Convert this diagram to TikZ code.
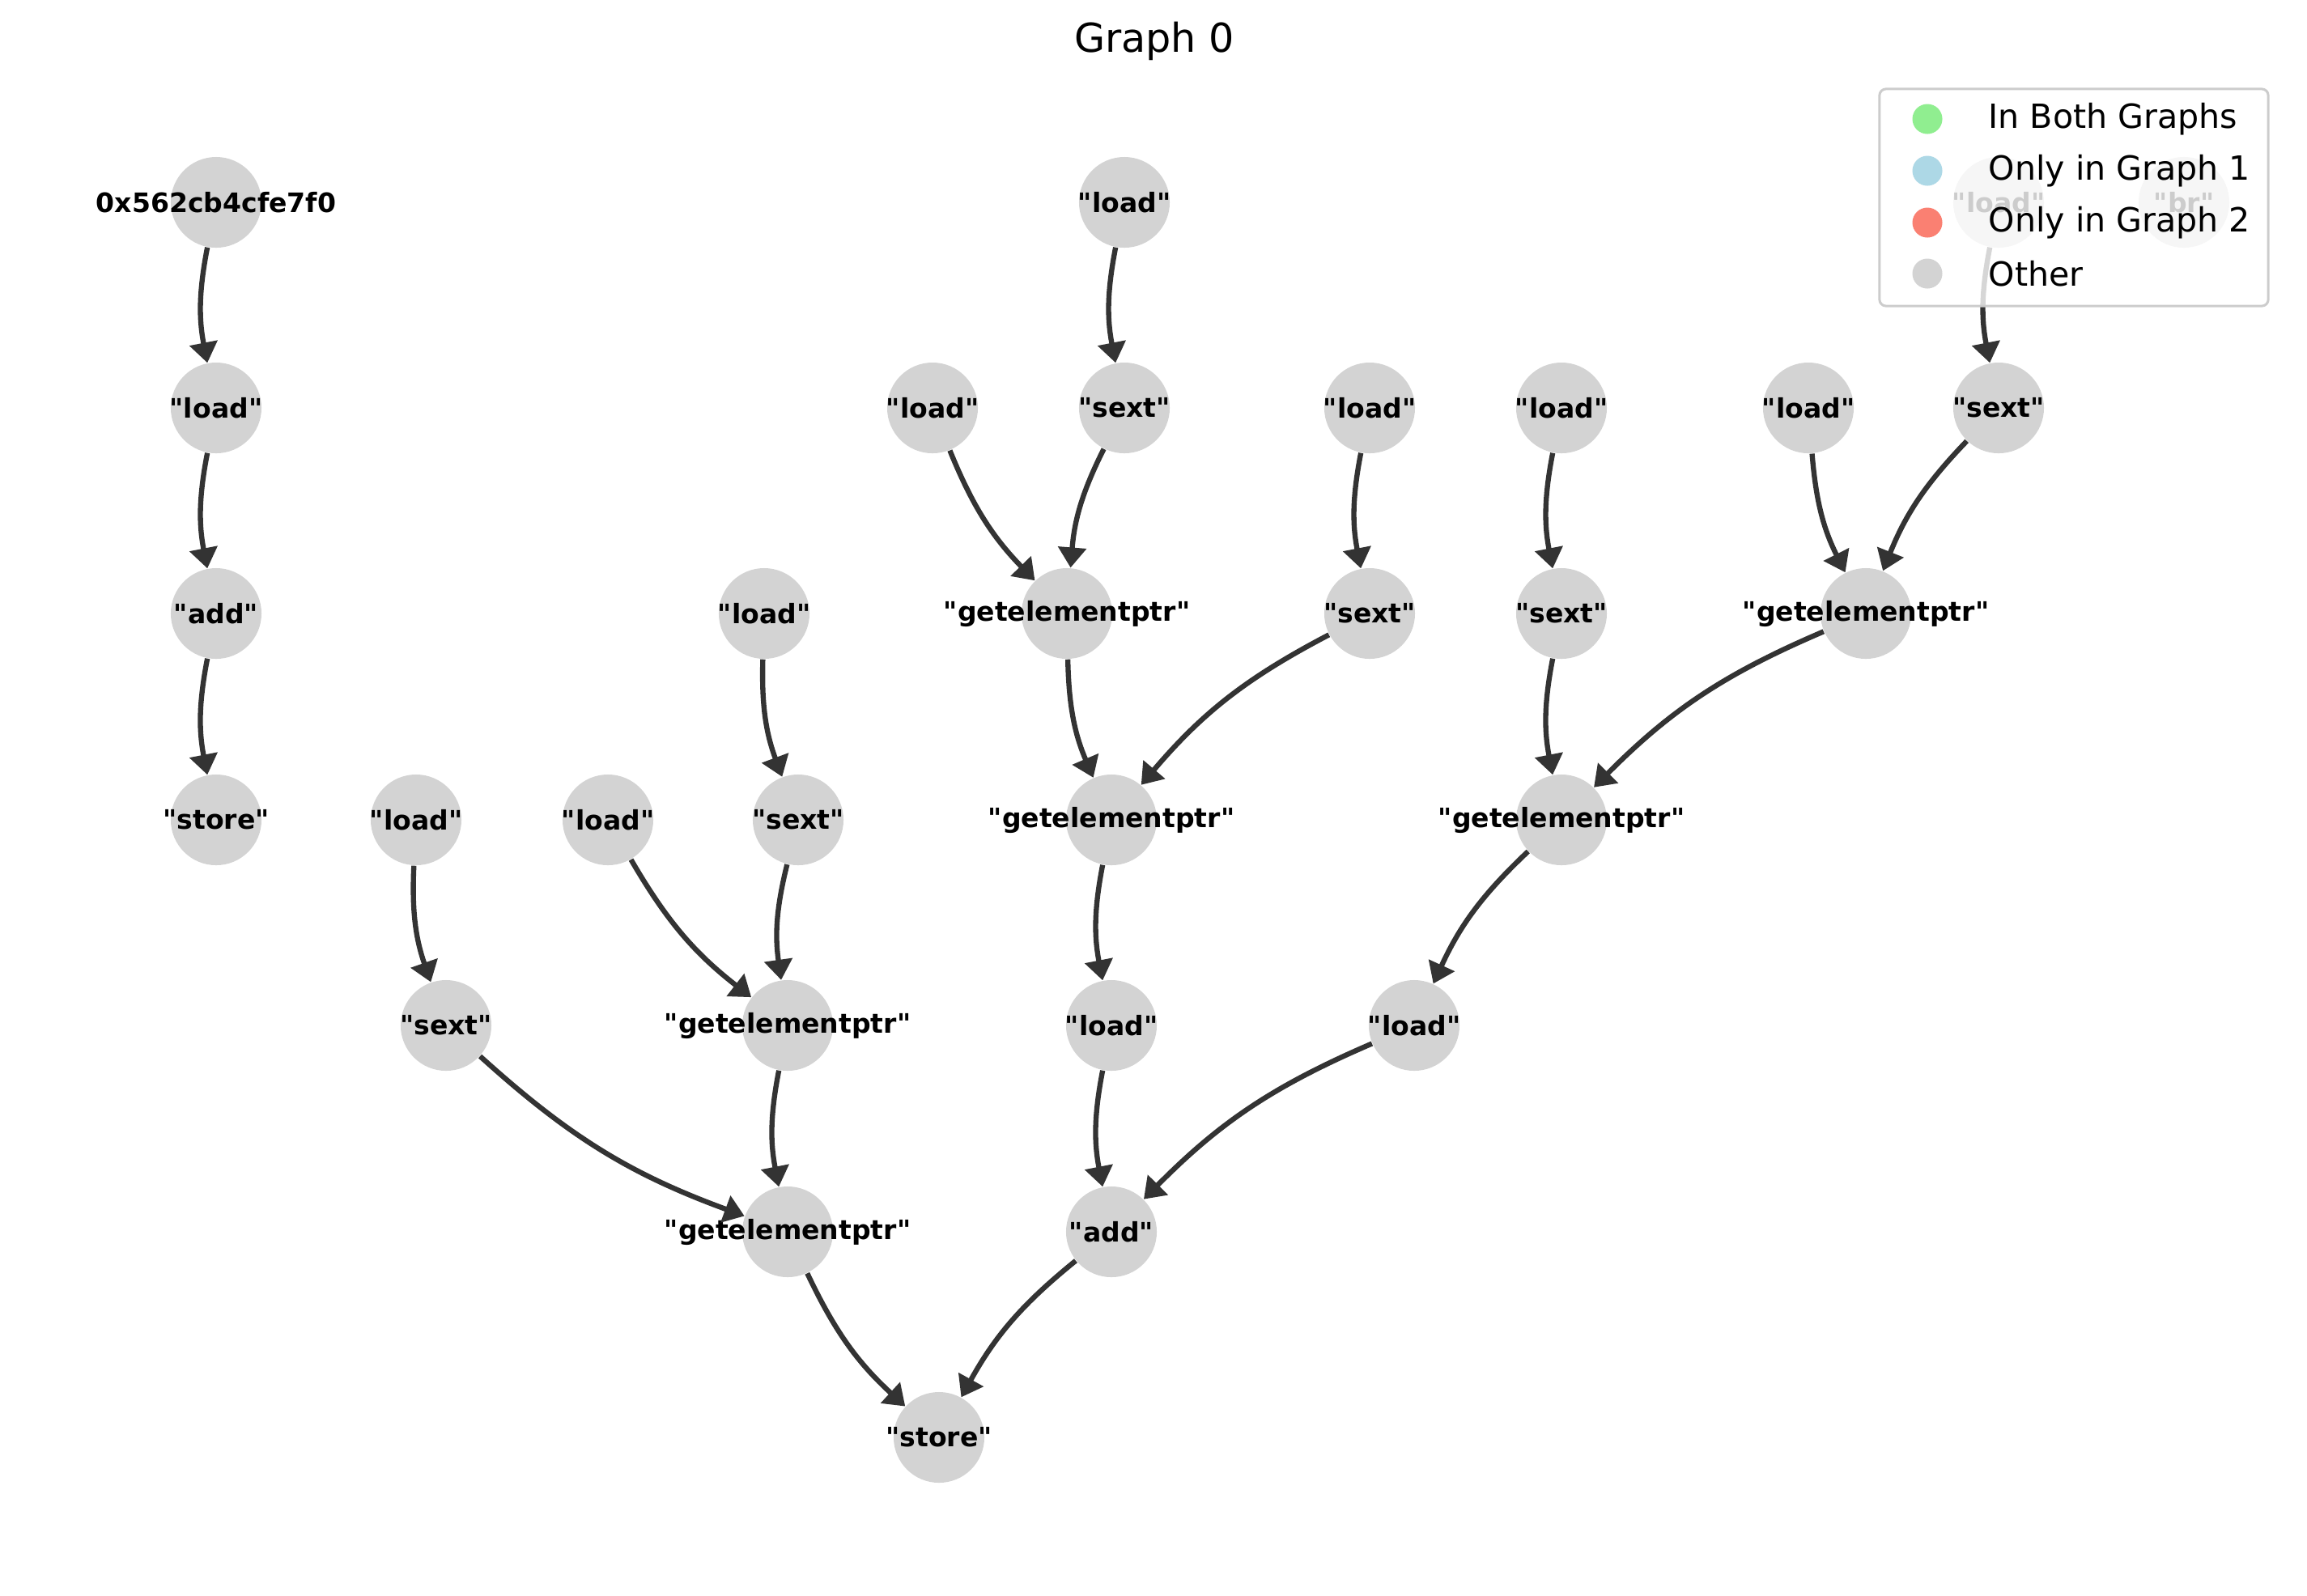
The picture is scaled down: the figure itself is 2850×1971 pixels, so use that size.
\documentclass[tikz,border=0pt]{standalone}
\usepackage{fontspec}
\setmainfont{DejaVu Sans}[Ligatures=TeXOff]
\usetikzlibrary{arrows.meta}
\definecolor{nodegray}{HTML}{D3D3D3}
\definecolor{edgegray}{HTML}{333333}
\definecolor{bothgreen}{HTML}{90EE90}
\definecolor{onlyblue}{HTML}{ADD8E6}
\definecolor{onlyred}{HTML}{FA8072}
\definecolor{framegray}{HTML}{CCCCCC}
\tikzset{
  vert/.style={circle, fill=nodegray, minimum size=1.12cm, inner sep=0pt,
    font=\fontsize{9.4}{11}\selectfont\bfseries},
  edge/.style={draw=edgegray, line width=1.8pt,
    -{Triangle[width=0.34cm,length=0.25cm,fill=edgegray]}},
  legdot/.style={circle, minimum size=0.37cm, inner sep=0pt},
  legtext/.style={anchor=west, inner sep=0pt, font=\fontsize{11.7}{14}\selectfont}
}
\begin{document}
\begin{tikzpicture}[x=0.01cm, y=-0.01cm]
        \useasboundingbox (0,0) rectangle (2850,1971);
        % Title
        \node (title) at (1426,51) {\fontsize{14}{17}\selectfont Graph 0};

        % Define the nodes
        \node[vert] (addr) at (267,250) {\makebox[0pt]{0x562cb4cfe7f0}};
        \node[vert] (ldTop) at (1389,250) {\makebox[0pt]{"load"}};
        \node[vert] (ldFade) at (2469,250) {\makebox[0pt]{"load"}};
        \node[vert] (br) at (2698,250) {\makebox[0pt]{"br"}};

        \node[vert] (ldA) at (267,504) {\makebox[0pt]{"load"}};
        \node[vert] (ldB) at (1152,504) {\makebox[0pt]{"load"}};
        \node[vert] (sxA) at (1389,504) {\makebox[0pt]{"sext"}};
        \node[vert] (ldC) at (1692,504) {\makebox[0pt]{"load"}};
        \node[vert] (ldD) at (1929,504) {\makebox[0pt]{"load"}};
        \node[vert] (ldE) at (2234,504) {\makebox[0pt]{"load"}};
        \node[vert] (sxB) at (2469,504) {\makebox[0pt]{"sext"}};

        \node[vert] (addA) at (267,758) {\makebox[0pt]{"add"}};
        \node[vert] (ldF) at (944,758) {\makebox[0pt]{"load"}};
        \node[vert] (gepA) at (1318,758) {\makebox[0pt]{"getelementptr"}};
        \node[vert] (sxC) at (1692,758) {\makebox[0pt]{"sext"}};
        \node[vert] (sxD) at (1929,758) {\makebox[0pt]{"sext"}};
        \node[vert] (gepB) at (2305,758) {\makebox[0pt]{"getelementptr"}};

        \node[vert] (stA) at (267,1013) {\makebox[0pt]{"store"}};
        \node[vert] (ldG) at (514,1013) {\makebox[0pt]{"load"}};
        \node[vert] (ldH) at (751,1013) {\makebox[0pt]{"load"}};
        \node[vert] (sxE) at (986,1013) {\makebox[0pt]{"sext"}};
        \node[vert] (gepC) at (1373,1013) {\makebox[0pt]{"getelementptr"}};
        \node[vert] (gepD) at (1929,1013) {\makebox[0pt]{"getelementptr"}};

        \node[vert] (sxF) at (551,1267) {\makebox[0pt]{"sext"}};
        \node[vert] (gepE) at (973,1267) {\makebox[0pt]{"getelementptr"}};
        \node[vert] (ldI) at (1373,1267) {\makebox[0pt]{"load"}};
        \node[vert] (ldJ) at (1747,1267) {\makebox[0pt]{"load"}};

        \node[vert] (gepF) at (973,1522) {\makebox[0pt]{"getelementptr"}};
        \node[vert] (addB) at (1373,1522) {\makebox[0pt]{"add"}};

        \node[vert] (stB) at (1160,1776) {\makebox[0pt]{"store"}};

        % Connect the nodes
        \draw[edge] (addr) to[bend right=11] (ldA);
        \draw[edge] (ldA) to[bend right=11] (addA);
        \draw[edge] (addA) to[bend right=11] (stA);

        \draw[edge] (ldTop) to[bend right=11] (sxA);
        \draw[edge] (ldB) to[bend right=11] (gepA);
        \draw[edge] (sxA) to[bend right=11] (gepA);
        \draw[edge] (ldC) to[bend right=11] (sxC);
        \draw[edge] (gepA) to[bend right=11] (gepC);
        \draw[edge] (sxC) to[bend right=11] (gepC);
        \draw[edge] (gepC) to[bend right=11] (ldI);

        \draw[edge] (ldFade) to[bend right=11] (sxB);
        \draw[edge] (ldE) to[bend right=11] (gepB);
        \draw[edge] (sxB) to[bend right=11] (gepB);
        \draw[edge] (ldD) to[bend right=11] (sxD);
        \draw[edge] (sxD) to[bend right=11] (gepD);
        \draw[edge] (gepB) to[bend right=11] (gepD);
        \draw[edge] (gepD) to[bend right=11] (ldJ);

        \draw[edge] (ldF) to[bend right=11] (sxE);
        \draw[edge] (ldH) to[bend right=11] (gepE);
        \draw[edge] (sxE) to[bend right=11] (gepE);
        \draw[edge] (ldG) to[bend right=11] (sxF);
        \draw[edge] (sxF) to[bend right=11] (gepF);
        \draw[edge] (gepE) to[bend right=11] (gepF);

        \draw[edge] (ldI) to[bend right=11] (addB);
        \draw[edge] (ldJ) to[bend right=11] (addB);
        \draw[edge] (gepF) to[bend right=11] (stB);
        \draw[edge] (addB) to[bend right=11] (stB);

        % Legend
        \node[draw=framegray, line width=0.85pt, fill=white, fill opacity=0.8,
          rounded corners=0.08cm, minimum width=4.8cm, minimum height=2.68cm,
          inner sep=0pt] (legend) at (2562,244) {};
        \node[legdot, fill=bothgreen] (dotBoth) at (2381,147) {};
        \node[legtext] (txBoth) at (2456,147) {In Both Graphs};
        \node[legdot, fill=onlyblue] (dotOne) at (2381,211) {};
        \node[legtext] (txOne) at (2456,211) {Only in Graph 1};
        \node[legdot, fill=onlyred] (dotTwo) at (2381,275) {};
        \node[legtext] (txTwo) at (2456,275) {Only in Graph 2};
        \node[legdot, fill=nodegray] (dotOther) at (2381,338) {};
        \node[legtext] (txOther) at (2456,338) {Other};
\end{tikzpicture}
\end{document}
